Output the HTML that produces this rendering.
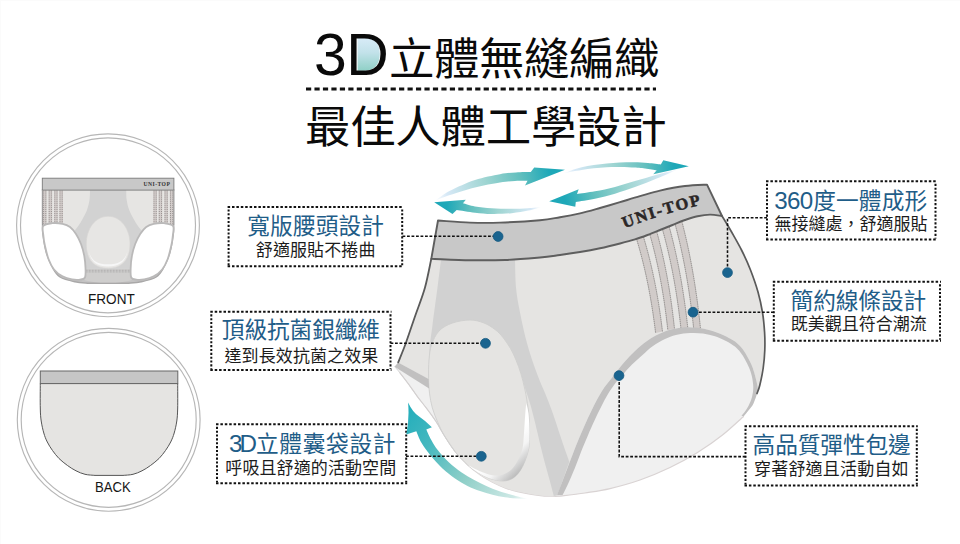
<!DOCTYPE html><html lang="zh-Hant"><head><meta charset="utf-8"><title>3D立體無縫編織</title><style>
html,body{margin:0;padding:0;background:#fff}
body{width:960px;height:544px;position:relative;overflow:hidden;font-family:"Liberation Sans",sans-serif}
.v{position:absolute;white-space:nowrap;line-height:1;color:#161616}
svg text.c{font-family:"Liberation Sans","Noto Sans CJK TC",sans-serif}
svg text.h{font-size:22.7px;fill:#1f5d88}
svg text.s{font-size:17px;fill:#1c1c1c}
svg text.n{font-size:24.2px;fill:#1f5d88}
</style></head><body>
<svg width="960" height="544" viewBox="0 0 960 544" style="position:absolute;left:0;top:0">
<defs>
<linearGradient id="gD" x1="0" y1="0" x2="0" y2="1"><stop offset="0" stop-color="#d9ecf8"/><stop offset="0.45" stop-color="#c3e2ea"/><stop offset="1" stop-color="#8fd0c6"/></linearGradient>
</defs>
<text class="c" x="314.1" y="75.2" font-size="58.9" fill="#0a0a0a">3</text>
<path fill="url(#gD)" d="M357.6 70.8L357.6 37.3L363 37.3C374.3 37.3 379.8 43.2 379.8 54C379.8 64.6 374.3 70.8 363 70.8Z"/>
<text class="c" x="346.3" y="75.2" font-size="58.9" fill="#0a0a0a">D</text>
<text class="c" x="389" y="74.9" font-size="45.5" letter-spacing="-0.5" fill="#0a0a0a" transform="translate(0 74.9) scale(1 0.965) translate(0 -74.9)">立體無縫編織</text>
<path d="M306 89H656" stroke="#111" stroke-width="3.2" stroke-dasharray="5.2 3.26" fill="none"/>
<text class="c" x="305" y="143.3" font-size="45.5" letter-spacing="-0.3" fill="#0a0a0a" transform="translate(0 143.3) scale(1 0.975) translate(0 -143.3)">最佳人體工學設計</text>
<path d="M227.6 206.9H403.2M227.6 266.2H403.2" stroke="#111" stroke-width="2" stroke-dasharray="2.5 1.9" fill="none"/>
<path d="M228.6 209.4V265.2M402.2 209.4V265.2" stroke="#111" stroke-width="2" stroke-dasharray="2.1 1.75" fill="none"/>
<text class="c h" x="247.3" y="233.6" letter-spacing="0.1">寬版腰頭設計</text>
<text class="c s" x="255.8" y="256.2" letter-spacing="0.1">舒適服貼不捲曲</text>
<path d="M210.3 311.8H391.5M210.3 370H391.5" stroke="#111" stroke-width="2" stroke-dasharray="2.5 1.9" fill="none"/>
<path d="M211.3 314.3V369M390.5 314.3V369" stroke="#111" stroke-width="2" stroke-dasharray="2.1 1.75" fill="none"/>
<text class="c h" x="221.8" y="338.2" letter-spacing="-0.1">頂級抗菌銀纖維</text>
<text class="c s" x="224.5" y="361.5" letter-spacing="0.1">達到長效抗菌之效果</text>
<path d="M216 424.3H407.2M216 483.2H407.2" stroke="#111" stroke-width="2" stroke-dasharray="2.5 1.9" fill="none"/>
<path d="M217 426.8V482.2M406.2 426.8V482.2" stroke="#111" stroke-width="2" stroke-dasharray="2.1 1.75" fill="none"/>
<text class="c n" x="229" y="451.9" letter-spacing="-2.9">3D</text>
<text class="c h" x="255.9" y="451.9" letter-spacing="0.7">立體囊袋設計</text>
<text class="c s" x="225.3" y="474.4" letter-spacing="0.1">呼吸且舒適的活動空間</text>
<path d="M766 181.3H936.5M766 239.5H936.5" stroke="#111" stroke-width="2" stroke-dasharray="2.5 1.9" fill="none"/>
<path d="M767 183.8V238.5M935.5 183.8V238.5" stroke="#111" stroke-width="2" stroke-dasharray="2.1 1.75" fill="none"/>
<text class="c n" x="774.2" y="209.4" letter-spacing="-0.7">360</text>
<text class="c h" x="813.3" y="209.4" letter-spacing="0.1">度一體成形</text>
<text class="c s" x="774.5" y="229.9">無接縫處，舒適服貼</text>
<path d="M772.8 281.8H941M772.8 340.7H941" stroke="#111" stroke-width="2" stroke-dasharray="2.5 1.9" fill="none"/>
<path d="M773.8 284.3V339.7M940 284.3V339.7" stroke="#111" stroke-width="2" stroke-dasharray="2.1 1.75" fill="none"/>
<text class="c h" x="790.6" y="309.4" letter-spacing="-0.1">簡約線條設計</text>
<text class="c s" x="790.8" y="329.9">既美觀且符合潮流</text>
<path d="M744.5 426.3H917.8M744.5 485.5H917.8" stroke="#111" stroke-width="2" stroke-dasharray="2.5 1.9" fill="none"/>
<path d="M745.5 428.8V484.5M916.8 428.8V484.5" stroke="#111" stroke-width="2" stroke-dasharray="2.1 1.75" fill="none"/>
<text class="c h" x="752.6" y="453.1" letter-spacing="-0.1">高品質彈性包邊</text>
<text class="c s" x="754" y="474.9" letter-spacing="0.2">穿著舒適且活動自如</text>
<circle cx="108" cy="225.3" r="91.4" fill="none" stroke="#b6b6b6" stroke-width="1.15"/>
<circle cx="108" cy="225.3" r="87.5" fill="none" stroke="#b6b6b6" stroke-width="1.15"/>
<circle cx="108.7" cy="419.8" r="91.4" fill="none" stroke="#b6b6b6" stroke-width="1.15"/>
<circle cx="108.7" cy="419.8" r="87.5" fill="none" stroke="#b6b6b6" stroke-width="1.15"/>
<path d="M40.3 383.5C40.3 387.6 40.1 401.8 40.3 408C40.4 414.2 40.6 416.8 41.2 421C41.8 425.2 42.8 429.5 43.8 433C44.8 436.5 45.8 439.1 47.3 442C48.8 444.9 50.5 447.8 52.5 450.5C54.5 453.2 56.5 456 59 458.5C61.5 461 64.7 463.4 67.5 465.5C70.3 467.6 73.1 469.3 76 470.8C78.9 472.3 81.8 473.5 85 474.3C88.2 475.1 93.3 475.2 95 475.4L123 475.4C124.7 475.2 129.8 475.1 133 474.3C136.2 473.5 139.1 472.3 142 470.8C144.9 469.3 147.7 467.6 150.5 465.5C153.3 463.4 156.5 461 159 458.5C161.5 456 163.6 453.2 165.5 450.5C167.4 447.8 169.2 444.9 170.7 442C172.1 439.1 173.2 436.5 174.2 433C175.2 429.5 176.2 425.2 176.8 421C177.4 416.8 177.5 414.2 177.7 408C177.8 401.8 177.7 387.6 177.7 383.5Z" fill="#e5e4e2" stroke="#555" stroke-width="1"/>
<rect x="40.3" y="371" width="137.5" height="12.6" fill="#c6c6c6" stroke="#666" stroke-width="1"/>
<path d="M42.5 190C42.5 195.8 42.4 217.5 42.5 225C42.6 232.5 42.4 230.4 43 235C43.6 239.6 44.7 247.1 46.3 252.5C47.9 257.9 50.2 263.4 52.5 267.5C54.8 271.6 56.2 274.6 60 277C63.8 279.4 70.4 280.8 75 281.8C79.6 282.8 85.4 283 87.5 283.2L128.7 283.2C130.8 283 136.6 282.8 141.2 281.8C145.8 280.8 152.4 279.4 156.2 277C159.9 274.6 161.4 271.6 163.7 267.5C166 263.4 168.3 257.9 169.9 252.5C171.5 247.1 172.6 239.6 173.2 235C173.8 230.4 173.6 232.5 173.7 225C173.8 217.5 173.7 195.8 173.7 190Z" fill="#c4c3c3" stroke="#a9a8a8" stroke-width="1.4"/>
<path d="M42.5 190H173.7V224C160 224 150 226 141 233L131 268.8H85L75 233C66 226 56 224 42.5 224Z" fill="#e6e5e3"/>
<path d="M90 190C89.9 191.7 90 196.7 89.5 200C89 203.3 88.2 206.7 87 210C85.8 213.3 83.8 216.8 82 220C80.2 223.2 78 226.5 76 229C74 231.5 71 234 70 235L83 262L85 268.8H131L133 262L146.2 235C145.2 234 142.2 231.5 140.2 229C138.2 226.5 136 223.2 134.2 220C132.4 216.8 130.4 213.3 129.2 210C127.9 206.7 127.2 203.3 126.7 200C126.2 196.7 126.3 191.7 126.2 190Z" fill="#d2d2d2"/>
<path d="M85 268.8H131.2L132 280C125 283.4 91 283.4 84.2 280Z" fill="#cfcecd"/>
<path d="M86 270.3H130.5M86 271.9H130.5" stroke="#8f8d8d" stroke-width="0.6" stroke-dasharray="0.8 0.7" fill="none"/>
<path d="M108.1 216.3C121 216.3 130 229 130 244C130 260 122 268.3 108.1 268.3C94 268.3 86.3 260 86.3 244C86.3 229 95 216.3 108.1 216.3Z" fill="#e7e6e4" stroke="#d6d5d4" stroke-width="0.6"/>
<path d="M89 252C91 262 97 266.5 108.1 266.5C119 266.5 125.5 262 127.3 252C125 260.5 119 264.3 108.1 264.3C97 264.3 91.5 260.5 89 252Z" fill="#f6f6f6"/>
<rect x="42.9" y="190.3" width="3.7" height="36" fill="#d3cdcb"/>
<path d="M43.6 190.5V226M45.8 190.5V226" stroke="#7d7676" stroke-width="0.7" stroke-dasharray="1 1.05" fill="none"/>
<rect x="48.5" y="190.3" width="3.7" height="36" fill="#d3cdcb"/>
<path d="M49.2 190.5V226M51.4 190.5V226" stroke="#7d7676" stroke-width="0.7" stroke-dasharray="1 1.05" fill="none"/>
<rect x="54.1" y="190.3" width="3.7" height="36" fill="#d3cdcb"/>
<path d="M54.8 190.5V226M57 190.5V226" stroke="#7d7676" stroke-width="0.7" stroke-dasharray="1 1.05" fill="none"/>
<rect x="59.3" y="190.3" width="3.7" height="36" fill="#d3cdcb"/>
<path d="M60 190.5V226M62.2 190.5V226" stroke="#7d7676" stroke-width="0.7" stroke-dasharray="1 1.05" fill="none"/>
<rect x="153.3" y="190.3" width="3.7" height="36" fill="#d3cdcb"/>
<path d="M154 190.5V226M156.2 190.5V226" stroke="#7d7676" stroke-width="0.7" stroke-dasharray="1 1.05" fill="none"/>
<rect x="158.6" y="190.3" width="3.7" height="36" fill="#d3cdcb"/>
<path d="M159.3 190.5V226M161.5 190.5V226" stroke="#7d7676" stroke-width="0.7" stroke-dasharray="1 1.05" fill="none"/>
<rect x="164.3" y="190.3" width="3.7" height="36" fill="#d3cdcb"/>
<path d="M165 190.5V226M167.2 190.5V226" stroke="#7d7676" stroke-width="0.7" stroke-dasharray="1 1.05" fill="none"/>
<rect x="169.8" y="190.3" width="3.7" height="36" fill="#d3cdcb"/>
<path d="M170.5 190.5V226M172.7 190.5V226" stroke="#7d7676" stroke-width="0.7" stroke-dasharray="1 1.05" fill="none"/>
<path d="M43.2 226C44.7 224 48.8 223.6 52 223.2C55.2 222.8 59.5 223.2 62.5 223.8C65.5 224.4 67.8 225.3 70 227C72.2 228.7 74.2 231.2 76 234C77.8 236.8 79.6 240.3 81 244C82.4 247.7 83.5 252 84.3 256C85 260 85.4 264.4 85.5 268C85.6 271.6 85.9 275.6 85 277.5C84.1 279.4 82.2 279.3 80 279.6C77.8 279.9 74.9 279.9 72 279.3C69.1 278.8 65.5 277.9 62.5 276.3C59.5 274.7 56.3 272.4 54 269.5C51.7 266.6 50 262.9 48.5 259C47 255.1 45.9 250 45 246C44.1 242 43.6 238.3 43.3 235C43 231.7 41.8 228 43.2 226Z" fill="#fff" stroke="#bab9b9" stroke-width="1.8"/>
<path d="M173 226C171.6 224 167.4 223.6 164.2 223.2C161 222.8 156.7 223.2 153.7 223.8C150.7 224.4 148.4 225.3 146.2 227C143.9 228.7 142 231.2 140.2 234C138.4 236.8 136.6 240.3 135.2 244C133.8 247.7 132.6 252 131.9 256C131.1 260 130.8 264.4 130.7 268C130.6 271.6 130.3 275.6 131.2 277.5C132.1 279.4 134 279.3 136.2 279.6C138.4 279.9 141.3 279.9 144.2 279.3C147.1 278.8 150.7 277.9 153.7 276.3C156.7 274.7 159.9 272.4 162.2 269.5C164.5 266.6 166.2 262.9 167.7 259C169.2 255.1 170.3 250 171.2 246C172.1 242 172.6 238.3 172.9 235C173.2 231.7 174.4 228 173 226Z" fill="#fff" stroke="#bab9b9" stroke-width="1.8"/>
<rect x="42.3" y="178.2" width="131.6" height="11.9" fill="#c8c8c8" stroke="#7a7a7a" stroke-width="0.9"/>
<path d="M42.5 190V225M173.7 190V225" stroke="#9a9999" stroke-width="0.9" fill="none"/>
<path d="M394.6 366.6C395.4 367.6 397.2 369.4 399.5 372.3C401.8 375.2 405.4 379.8 408.4 383.9C411.4 388 414.5 392.7 417.6 396.8C420.7 400.9 423.7 404.6 426.8 408.7C429.9 412.8 433.1 417.1 436 421.5C438.9 425.9 440.8 430 444 435C447.2 440 451.1 446.5 455 451.5C458.9 456.5 463.3 460.9 467.5 464.8C471.7 468.7 475.8 471.9 480 474.8C484.2 477.7 488.3 480.1 492.5 482.3C496.7 484.5 500.8 486.3 505 487.9C509.2 489.4 513.3 490.6 517.5 491.6C521.7 492.6 525.8 493.4 530 494.1C534.2 494.8 538.3 495.4 542.5 495.8C546.7 496.2 552.9 496.2 555 496.3L560 496.2C564.2 495.7 576.7 494.3 585 493C593.3 491.7 600.8 490.8 610 488.6C619.2 486.4 630 483.5 640 480C650 476.5 660.4 472.1 670 467.5C679.6 462.9 688.8 457.9 697.5 452.5C706.2 447.1 714.8 441.1 722.5 435C730.2 428.9 740.2 419.3 743.8 416.2L743.8 416.2C744.5 415.3 746.6 412.8 748 411C749.4 409.2 751.2 407.3 752.4 405.4C753.6 403.5 754.2 401.5 755 399.5C755.8 397.5 756.2 395.9 757 393.5C757.8 391.1 758.8 389.4 759.8 385.2C760.8 380.9 762.4 373.9 763.2 368C764 362.1 764.6 355.9 764.8 350C765 344.1 765 338.8 764.6 332.5C764.2 326.2 763.6 319.2 762.5 312.5C761.4 305.8 760 299.1 758 292C756 284.9 753.2 277 750.5 270C747.8 263 744.8 256.5 741.5 250C738.2 243.5 734.2 236.7 731 231C727.8 225.3 723.5 218.5 722 216L722 216C720 215.8 714.1 214.5 710 214.6C705.9 214.7 701.7 215.4 697.5 216.3C693.3 217.2 689.2 218.6 685 220C680.8 221.4 676.7 223.3 672.5 225C668.3 226.7 664.2 228.3 660 230C655.8 231.7 651.7 233.4 647.5 235C643.3 236.6 639.6 238 635 239.4C630.4 240.8 625.8 242 620 243.5C614.2 245 606.7 246.9 600 248.3C593.3 249.7 586.7 250.9 580 252C573.3 253.1 566.7 254.1 560 255C553.3 255.9 549.2 256.7 540 257.5C530.8 258.3 516.7 259.6 505 260C493.3 260.4 482.3 260.4 470 260.2C457.7 260 437.8 259 431.3 258.8L431.3 258.8C430.2 263.6 427.6 278.1 425 287.5C422.4 296.9 418.8 305.6 415.5 315C412.2 324.4 408.4 336.1 405.5 344C402.6 351.9 399.4 359.3 398.2 362.4Z" fill="#f0f0f0"/>
<path d="M399.5 372.3C401 374.2 405.4 379.8 408.4 383.9C411.4 388 414.5 392.7 417.6 396.8C420.7 400.9 423.7 404.6 426.8 408.7C429.9 412.8 433.1 417.1 436 421.5C438.9 425.9 440.8 430 444 435C447.2 440 451.1 446.5 455 451.5C458.9 456.5 463.3 460.9 467.5 464.8C471.7 468.7 475.8 471.9 480 474.8C484.2 477.7 488.3 480.1 492.5 482.3C496.7 484.5 500.8 486.3 505 487.9C509.2 489.4 513.3 490.6 517.5 491.6C521.7 492.6 525.8 493.4 530 494.1C534.2 494.8 538.3 495.4 542.5 495.8C546.7 496.2 552.9 496.2 555 496.3L560 496.2C564.2 495.7 576.7 494.3 585 493C593.3 491.7 600.8 490.8 610 488.6C619.2 486.4 630 483.5 640 480C650 476.5 660.4 472.1 670 467.5C679.6 462.9 688.8 457.9 697.5 452.5C706.2 447.1 714.8 441.1 722.5 435C730.2 428.9 740.2 419.3 743.8 416.2" fill="none" stroke="#d9d3d3" stroke-width="1.2"/>
<path d="M431.3 258.8L431.3 258.8C430.2 263.6 427.6 278.1 425 287.5C422.4 296.9 418.8 305.6 415.5 315C412.2 324.4 408.4 336.1 405.5 344C402.6 351.9 399.4 359.3 398.2 362.4L428.6 379.2L428.6 378.4C428.8 380.8 428.9 388.2 429.5 393.1C430.1 398 430.9 402.9 432.3 407.8C433.7 412.7 435.7 417.6 437.8 422.5C439.9 427.4 442.3 432.4 445.2 437.2C448.1 442 453.4 449.1 455 451.5L455 451.5C457.1 453.7 463.3 460.9 467.5 464.8C471.7 468.7 475.8 471.9 480 474.8C484.2 477.7 488.3 480.1 492.5 482.3C496.7 484.5 500.8 486.3 505 487.9C509.2 489.4 513.3 490.6 517.5 491.6C521.7 492.6 525.8 493.4 530 494.1C534.2 494.8 538.3 495.4 542.5 495.8C546.7 496.2 552.9 496.2 555 496.3L557 495.2L557 495.2C557.8 493.3 559.6 488.5 561.5 483.7C563.4 478.9 565.9 472.2 568.2 466.1C570.5 460 573 453.4 575.5 447C578 440.6 580.7 434.4 583.5 428C586.3 421.6 589.3 414.9 592.4 408.7C595.5 402.5 598.6 396.4 602 391C605.4 385.6 609.3 381.2 613 376.5C616.7 371.8 620.3 366.8 624 362.5C627.7 358.2 631.2 354.6 635 351C638.8 347.4 642.8 343.9 647 341C651.2 338.1 655.8 335.4 660 333.5C664.2 331.6 667.8 330.3 672 329.3C676.2 328.3 680.7 327.6 685 327.3C689.3 327.1 693.8 327.3 698 327.8C702.2 328.3 705.8 329.1 710 330.3C714.2 331.5 719.7 333.6 723 335C726.3 336.4 727.7 337.3 730 338.6C732.3 339.9 734.6 341.1 736.8 342.9C739 344.7 741.2 347.1 743 349.5C744.8 351.9 746.2 354.6 747.8 357.6C749.4 360.6 751.3 364 752.6 367.5C753.9 371 754.9 374.9 755.8 378.5C756.7 382.1 757.7 386.4 757.9 388.9C758.1 391.4 757.1 392.7 757 393.5L757 393.5C757.5 392.1 758.8 389.4 759.8 385.2C760.8 380.9 762.4 373.9 763.2 368C764 362.1 764.6 355.9 764.8 350C765 344.1 765 338.8 764.6 332.5C764.2 326.2 763.6 319.2 762.5 312.5C761.4 305.8 760 299.1 758 292C756 284.9 753.2 277 750.5 270C747.8 263 744.8 256.5 741.5 250C738.2 243.5 734.2 236.7 731 231C727.8 225.3 723.5 218.5 722 216L722 216C720 215.8 714.1 214.5 710 214.6C705.9 214.7 701.7 215.4 697.5 216.3C693.3 217.2 689.2 218.6 685 220C680.8 221.4 676.7 223.3 672.5 225C668.3 226.7 664.2 228.3 660 230C655.8 231.7 651.7 233.4 647.5 235C643.3 236.6 639.6 238 635 239.4C630.4 240.8 625.8 242 620 243.5C614.2 245 606.7 246.9 600 248.3C593.3 249.7 586.7 250.9 580 252C573.3 253.1 566.7 254.1 560 255C553.3 255.9 549.2 256.7 540 257.5C530.8 258.3 516.7 259.6 505 260C493.3 260.4 482.3 260.4 470 260.2C457.7 260 437.8 259 431.3 258.8Z" fill="#e5e4e2"/>
<path d="M428.6 379C428.8 374.2 428.9 359 429.5 350C430.1 341 431.2 335.4 432.5 325C433.8 314.6 436.1 298.3 437.5 287.5C438.9 276.7 440.4 264.6 441 260L441 260C445.8 260.1 457.7 260.7 470 260.6C482.3 260.5 507.5 259.7 515 259.5L515 259.5C515.2 264.2 515.2 278.7 516 287.5C516.8 296.3 518.1 302.9 520 312.5C521.9 322.1 524.6 334.6 527.5 345C530.4 355.4 534.6 367 537.5 375C540.4 383 542.5 386.7 545 393C547.5 399.3 549.6 404.1 552.7 413C555.8 421.9 561 438.1 563.8 446.2C566.6 454.3 568.4 459.1 569.3 461.7L569.3 461.7C568 465.4 563.5 478.1 561.5 483.7C559.5 489.3 557.8 493.3 557 495.2L553.8 495.9L553.8 495.9C553.1 493.1 551.2 486.1 549.4 479.3C547.6 472.5 545.1 464.2 542.8 455C540.5 445.8 537.5 432.5 535.4 424C533.3 415.5 531.8 409.7 530.2 404C528.6 398.3 527.2 395.3 525.6 390C524 384.7 521.4 375 520.5 372L480 400Z" fill="#d1d1d1"/>
<path d="M470 320C464.8 320 457.7 321.2 452.5 323C447.3 324.8 442.5 327.3 439 331C435.5 334.7 433.2 340.2 431.5 345C429.8 349.8 429.5 354.4 429 360C428.5 365.6 428.5 372.9 428.6 378.4C428.7 383.9 428.9 388.2 429.5 393.1C430.1 398 430.9 402.9 432.3 407.8C433.7 412.7 435.7 417.6 437.8 422.5C439.9 427.4 442.3 432.4 445.2 437.2C448.1 442 451.3 446.9 455 451.5C458.7 456.1 463.8 461.3 467.5 464.8C471.2 468.3 473.8 470 477.5 472.3C481.2 474.6 485.8 477.1 490 478.5C494.2 479.9 498.8 481 502.5 481C506.2 481 509.6 480.2 512.5 478.5C515.4 476.8 517.9 473.9 520 471C522.1 468.1 523.5 464.8 525 461C526.5 457.2 528 452.7 528.7 448.5C529.5 444.3 529.4 440.8 529.5 436C529.6 431.2 529.5 424.8 529.2 420C529 415.2 528.7 412.5 528 407.5C527.3 402.5 526.2 395.6 525 390C523.8 384.4 522.5 379 521 374C519.5 369 517.8 364.2 516 360C514.2 355.8 512.7 352.2 510.5 348.5C508.3 344.8 505.6 340.7 503 337.5C500.4 334.3 498.2 331.9 495 329.5C491.8 327.1 488.2 324.6 484 323C479.8 321.4 475.2 320 470 320Z" fill="#e5e4e2" stroke="#cfcfce" stroke-width="0.9"/>
<path d="M526.2 403.2C526.6 404.7 527.8 408.5 528.3 412C528.8 415.5 529.1 420 529.3 424C529.5 428 529.6 431.9 529.5 436C529.4 440.1 529.5 444.3 528.7 448.5C528 452.7 526.5 457.2 525 461C523.5 464.8 522.1 468.1 520 471C517.9 473.9 515.4 476.8 512.5 478.5C509.6 480.2 506.2 481 502.5 481C498.8 481 494.2 479.9 490 478.5C485.8 477.1 481.2 474.6 477.5 472.3C473.8 470 469.2 466.1 467.5 464.8L467.5 464.8C469 465.6 473.8 468.4 476.3 469.6C478.8 470.8 479.8 471.2 482.5 472.2C485.2 473.1 489.2 474.9 492.5 475.3C495.8 475.7 499.4 475.6 502.5 474.7C505.6 473.8 508.8 472 511.3 469.7C513.8 467.4 515.6 464.5 517.5 461C519.4 457.5 521.5 452.7 522.5 448.5C523.5 444.3 523.4 440.1 523.8 436C524.1 431.9 524.3 428 524.6 424C524.9 420 525.1 415.5 525.4 412C525.7 408.5 526.1 404.7 526.2 403.2Z" fill="url(#gHL)"/>
<path d="M636.1 237.6Q649.3 280.1 655.6 333L662.5 331.6Q656.2 278.2 643 235.3Z" fill="#d1cbc9"/>
<path d="M636.1 237.6Q649.3 280.1 655.6 333" fill="none" stroke="#777372" stroke-width="0.8" stroke-dasharray="1.3 0.6"/>
<path d="M643 235.3Q656.2 278.2 662.5 331.6" fill="none" stroke="#777372" stroke-width="0.8" stroke-dasharray="1.3 0.6"/>
<path d="M649.4 233Q662 276.2 667.8 330L674.5 328.8Q668.8 274.2 656.3 230.1Z" fill="#d1cbc9"/>
<path d="M649.4 233Q662 276.2 667.8 330" fill="none" stroke="#777372" stroke-width="0.8" stroke-dasharray="1.3 0.6"/>
<path d="M656.3 230.1Q668.8 274.2 674.5 328.8" fill="none" stroke="#777372" stroke-width="0.8" stroke-dasharray="1.3 0.6"/>
<path d="M662 227.8Q674.9 272.8 680.9 328.2L687.8 328Q681.7 271.2 668.7 225Z" fill="#d1cbc9"/>
<path d="M662 227.8Q674.9 272.8 680.9 328.2" fill="none" stroke="#777372" stroke-width="0.8" stroke-dasharray="1.3 0.6"/>
<path d="M668.7 225Q681.7 271.2 687.8 328" fill="none" stroke="#777372" stroke-width="0.8" stroke-dasharray="1.3 0.6"/>
<path d="M674.7 222.7Q687.6 270.1 693.6 328L700.5 328.6Q694.5 269.2 681.6 220.4Z" fill="#d1cbc9"/>
<path d="M674.7 222.7Q687.6 270.1 693.6 328" fill="none" stroke="#777372" stroke-width="0.8" stroke-dasharray="1.3 0.6"/>
<path d="M681.6 220.4Q694.5 269.2 700.5 328.6" fill="none" stroke="#777372" stroke-width="0.8" stroke-dasharray="1.3 0.6"/>
<path d="M398.2 362.4L428.6 379L429.1 388.6L394.6 366.8Z" fill="#c1c0c0"/>
<path d="M394.6 366.6C395.4 367.6 397.2 369.4 399.5 372.3C401.8 375.2 405.4 379.8 408.4 383.9C411.4 388 414.5 392.7 417.6 396.8C420.7 400.9 423.7 404.6 426.8 408.7C429.9 412.8 433.1 417.1 436 421.5C438.9 425.9 440.8 430 444 435C447.2 440 453.2 448.8 455 451.5" fill="none" stroke="#cfcfcf" stroke-width="0.8"/>
<path d="M557 495.2C557.8 493.3 559.6 488.5 561.5 483.7C563.4 478.9 565.9 472.2 568.2 466.1C570.5 460 573 453.4 575.5 447C578 440.6 580.7 434.4 583.5 428C586.3 421.6 589.3 414.9 592.4 408.7C595.5 402.5 598.6 396.4 602 391C605.4 385.6 609.3 381.2 613 376.5C616.7 371.8 620.3 366.8 624 362.5C627.7 358.2 631.2 354.6 635 351C638.8 347.4 642.8 343.9 647 341C651.2 338.1 655.8 335.4 660 333.5C664.2 331.6 667.8 330.3 672 329.3C676.2 328.3 680.7 327.6 685 327.3C689.3 327.1 693.8 327.3 698 327.8C702.2 328.3 705.8 329.1 710 330.3C714.2 331.5 719.7 333.6 723 335C726.3 336.4 727.7 337.3 730 338.6C732.3 339.9 734.6 341.1 736.8 342.9C739 344.7 741.2 347.1 743 349.5C744.8 351.9 746.2 354.6 747.8 357.6C749.4 360.6 751.3 364 752.6 367.5C753.9 371 754.9 374.9 755.8 378.5C756.7 382.1 757.7 386.4 757.9 388.9C758.1 391.4 757.5 391.7 757 393.5C756.5 395.3 755.8 397.5 755 399.5C754.2 401.5 753.6 403.5 752.4 405.4C751.2 407.3 749.4 409.2 748 411C746.6 412.8 744.5 415.3 743.8 416.2L741.5 415.8C742.1 415.1 743.8 413.2 745 411.5C746.2 409.8 747.5 407.8 748.7 405.4C749.9 403 751.2 400.1 752 397C752.8 393.9 753.3 390.5 753.3 387C753.3 383.5 752.5 379.2 751.8 376C751.1 372.8 750.1 370.3 749 367.5C747.9 364.7 746.4 361.9 745 359.4C743.6 356.9 742.2 354.6 740.5 352.5C738.8 350.4 737.3 348.5 734.9 346.6C732.5 344.7 729.3 342.7 726 341C722.7 339.3 718.8 337.6 715 336.3C711.2 335.1 707.2 334.1 703 333.5C698.8 332.9 694.3 332.8 690 333C685.7 333.2 681.2 333.8 677 334.8C672.8 335.8 669 337.1 665 339C661 340.9 656.8 343.3 653 346C649.2 348.7 646 351.9 642.5 355C639 358.1 635.4 361.1 632 364.5C628.6 367.9 624.8 372.4 622 375.5C619.2 378.6 617.8 379.9 615.5 383C613.2 386.1 610.4 390.1 608 394C605.6 397.9 603.5 402.1 601.3 406.5C599 410.9 596.7 415.7 594.5 420.5C592.3 425.3 590.2 429.9 588 435.2C585.8 440.4 583.2 446.5 581 452C578.8 457.5 577 463 574.8 468.3C572.6 473.6 570 479.6 568 484C566 488.4 563.5 493.2 562.6 495Z" fill="#c1c0c0"/>
<path d="M438 220.5C443.3 220.8 459.7 222.2 470 222.6C480.3 222.9 488.3 223 500 222.6C511.7 222.2 530 221.1 540 220.2C550 219.3 553.3 218.3 560 217.2C566.7 216.1 573.3 214.9 580 213.4C586.7 211.9 593.3 209.9 600 208C606.7 206.1 613.3 204.2 620 202.2C626.7 200.2 633.3 198.1 640 196.2C646.7 194.3 652.5 192.3 660 190.6C667.5 188.9 677.2 187 685 186C692.8 185 703.3 184.8 707 184.6L722 216C720 215.8 714.1 214.5 710 214.6C705.9 214.7 701.7 215.4 697.5 216.3C693.3 217.2 689.2 218.6 685 220C680.8 221.4 676.7 223.3 672.5 225C668.3 226.7 664.2 228.3 660 230C655.8 231.7 651.7 233.4 647.5 235C643.3 236.6 639.6 238 635 239.4C630.4 240.8 625.8 242 620 243.5C614.2 245 606.7 246.9 600 248.3C593.3 249.7 586.7 250.9 580 252C573.3 253.1 566.7 254.1 560 255C553.3 255.9 549.2 256.7 540 257.5C530.8 258.3 516.7 259.6 505 260C493.3 260.4 482.3 260.4 470 260.2C457.7 260 437.8 259 431.3 258.8Z" fill="#c8c8c8" stroke="#5e5e5e" stroke-width="1.9" stroke-linejoin="round"/>
<path d="M431.3 258.8C430.2 263.6 427.6 278.1 425 287.5C422.4 296.9 418.8 305.6 415.5 315C412.2 324.4 408.4 336.1 405.5 344C402.6 351.9 399.4 359.3 398.2 362.4" fill="none" stroke="#5a5a5a" stroke-width="1.8" stroke-linecap="round"/>
<path d="M722 216C723.5 218.5 727.8 225.3 731 231C734.2 236.7 738.2 243.5 741.5 250C744.8 256.5 747.8 263 750.5 270C753.2 277 756 284.9 758 292C760 299.1 761.4 305.8 762.5 312.5C763.6 319.2 764.2 326.2 764.6 332.5C765 338.8 765 344.1 764.8 350C764.6 355.9 764 362.1 763.2 368C762.4 373.9 760.8 380.9 759.8 385.2C758.8 389.4 757.5 392.1 757 393.5" fill="none" stroke="#5a5a5a" stroke-width="1.7" stroke-linecap="round"/>
<defs>
<linearGradient id="ga1" gradientUnits="userSpaceOnUse" x1="435" y1="200" x2="565" y2="170"><stop offset="0" stop-color="#d6e8f6" stop-opacity="0.0"/><stop offset="0.1" stop-color="#d6e8f6" stop-opacity="1"/><stop offset="0.4" stop-color="#9fd5d2" stop-opacity="1"/><stop offset="0.66" stop-color="#62bfbe" stop-opacity="1"/><stop offset="0.88" stop-color="#1ea8b8" stop-opacity="1"/><stop offset="1" stop-color="#1ea8b8" stop-opacity="1"/></linearGradient>
<linearGradient id="ga2" gradientUnits="userSpaceOnUse" x1="542" y1="207" x2="434" y2="202"><stop offset="0" stop-color="#d6e8f6" stop-opacity="0.0"/><stop offset="0.1" stop-color="#d6e8f6" stop-opacity="1"/><stop offset="0.4" stop-color="#9fd5d2" stop-opacity="1"/><stop offset="0.66" stop-color="#62bfbe" stop-opacity="1"/><stop offset="0.88" stop-color="#1ea8b8" stop-opacity="1"/><stop offset="1" stop-color="#1ea8b8" stop-opacity="1"/></linearGradient>
<linearGradient id="ga3" gradientUnits="userSpaceOnUse" x1="678" y1="170" x2="549" y2="201"><stop offset="0" stop-color="#d6e8f6" stop-opacity="0.0"/><stop offset="0.1" stop-color="#d6e8f6" stop-opacity="1"/><stop offset="0.4" stop-color="#9fd5d2" stop-opacity="1"/><stop offset="0.66" stop-color="#62bfbe" stop-opacity="1"/><stop offset="0.88" stop-color="#1ea8b8" stop-opacity="1"/><stop offset="1" stop-color="#1ea8b8" stop-opacity="1"/></linearGradient>
<linearGradient id="ga4" gradientUnits="userSpaceOnUse" x1="563" y1="173" x2="689" y2="166"><stop offset="0" stop-color="#d6e8f6" stop-opacity="0.0"/><stop offset="0.1" stop-color="#d6e8f6" stop-opacity="1"/><stop offset="0.4" stop-color="#9fd5d2" stop-opacity="1"/><stop offset="0.66" stop-color="#62bfbe" stop-opacity="1"/><stop offset="0.88" stop-color="#1ea8b8" stop-opacity="1"/><stop offset="1" stop-color="#1ea8b8" stop-opacity="1"/></linearGradient>
<linearGradient id="ga5" gradientUnits="userSpaceOnUse" x1="528" y1="499" x2="408" y2="402"><stop offset="0" stop-color="#e4f3f1" stop-opacity="0.2"/><stop offset="0.08" stop-color="#cfe9e6" stop-opacity="1"/><stop offset="0.4" stop-color="#8fcfc8" stop-opacity="1"/><stop offset="0.72" stop-color="#45b8bf" stop-opacity="1"/><stop offset="1" stop-color="#20adbb" stop-opacity="1"/></linearGradient>
<linearGradient id="gHL" gradientUnits="userSpaceOnUse" x1="503" y1="446" x2="524" y2="468"><stop offset="0" stop-color="#ffffff"/><stop offset="0.45" stop-color="#f4f4f4"/><stop offset="1" stop-color="#bcbcbc"/></linearGradient>
</defs>
<path d="M435 200.8C437.5 199.1 443.3 194.3 450 190.8C456.7 187.3 466.7 182.8 475 180C483.3 177.2 493.2 175.5 500 174.2C506.8 172.9 510.9 172.8 516 172.4C521.1 172 528.3 172.1 530.8 172L534.2 167.5L565 169.7L525 185.5L527.5 180.8C525.4 180.8 519.6 180.7 515 181C510.4 181.3 506.7 181.4 500 182.5C493.3 183.6 483.3 185.4 475 187.5C466.7 189.6 456.7 192.8 450 195C443.3 197.2 437.5 199.8 435 200.8Z" fill="url(#ga1)"/>
<path d="M434.2 202.2L465.8 199.7L463 203.2C465 203.7 470.2 205.6 475 206.4C479.8 207.2 485.6 207.9 491.7 208.3C497.8 208.7 505.6 208.8 511.7 208.8C517.8 208.8 523.1 208.5 528 208.2C532.9 207.9 538.8 207.2 541 207L541 207C538.9 207.6 533.2 209.6 528.3 210.6C523.4 211.6 517.8 212.6 511.7 213.2C505.6 213.8 497.8 214.1 491.7 214C485.6 213.9 480.8 213.4 475 212.7C469.2 212 459.8 210.4 456.7 210L452.5 213.9Z" fill="url(#ga2)"/>
<path d="M549.2 201.3L578.7 189.2L577 194C580 193.6 588.7 192.5 595 191.3C601.3 190.1 608.3 188.6 615 186.9C621.7 185.2 628 183.1 635 181.1C642 179.1 649.7 176.6 656.7 174.7C663.7 172.8 673.6 170.6 677 169.8L677 169.8C673.6 171.3 663.7 175.7 656.7 178.6C649.7 181.5 642 184.6 635 187.1C628 189.6 621.7 191.8 615 193.7C608.3 195.6 601.5 197.3 595 198.7C588.5 200.1 579 201.4 575.8 202L575.3 206.7Z" fill="url(#ga3)"/>
<path d="M563.3 173.3C566.4 172.3 574.5 168.8 581.7 167.2C588.9 165.5 598.4 164.2 606.7 163.4C615 162.6 624.8 162.3 631.7 162.2C638.6 162.1 643.1 162.6 648 163C652.9 163.4 658.7 164.2 660.8 164.5L663.3 160.3L688.8 166.3L653.3 174.2L656.7 170.3C654.8 170 649.2 168.9 645 168.4C640.8 167.9 638.1 167.6 631.7 167.4C625.3 167.2 615 166.9 606.7 167.3C598.4 167.7 588.9 168.9 581.7 169.9C574.5 170.9 566.4 172.7 563.3 173.3Z" fill="url(#ga4)"/>
<path d="M408.1 402.5Q412.5 412 418.8 416.3T431.9 427.3L426.3 429.4L426.3 429.4C427.1 431.2 429.4 436.6 431.3 440C433.2 443.4 434.6 446.1 437.5 449.8C440.4 453.5 444.8 458.6 448.8 462.3C452.8 466.1 457.1 469.4 461.3 472.3C465.5 475.2 469.6 477.5 473.8 479.8C478 482.1 482.1 484.1 486.3 486C490.5 487.9 494.6 489.5 498.8 491C503 492.5 506.4 493.4 511.3 494.8C516.2 496.2 525.2 498.5 528 499.2L528 499.2C526.2 499.1 521.3 498.9 517.5 498.6C513.7 498.3 509.2 497.9 505 497.3C500.8 496.7 496.7 495.9 492.5 494.8C488.3 493.8 484.2 492.5 480 491C475.8 489.5 471.7 488.1 467.5 486C463.3 483.9 459.2 481.4 455 478.5C450.8 475.6 446.7 472.4 442.5 468.5C438.3 464.6 433.5 459.1 430 454.8C426.5 450.5 423.6 446.4 421.3 442.5C419 438.6 417.1 433.2 416.3 431.3L406.3 434.4Q409.5 420 408.1 402.5Z" fill="url(#ga5)"/>
<path id="utp" d="M621.6 229.4Q662 213.4 704 204.4" fill="none"/>
<text style="font-family:'Liberation Serif',serif;font-weight:700;font-size:16.4px;letter-spacing:1.8px" fill="#2a2626" stroke="#2a2626" stroke-width="0.55"><textPath href="#utp" startOffset="3.2">UNI-TOP</textPath></text>
<text x="143.6" y="185.6" style="font-family:'Liberation Serif',serif;font-weight:700;font-size:5.6px;letter-spacing:0.45px" fill="#333">UNI-TOP</text>
<path d="M402.5 236.3H494" stroke="#111" stroke-width="1.55" stroke-dasharray="2.8 1.7" fill="none"/>
<path d="M390.5 343.3H481" stroke="#111" stroke-width="1.55" stroke-dasharray="2.8 1.7" fill="none"/>
<path d="M406 456.3H477" stroke="#111" stroke-width="1.55" stroke-dasharray="2.8 1.7" fill="none"/>
<path d="M767 217.7H727.5V268" stroke="#111" stroke-width="1.55" stroke-dasharray="2.8 1.7" fill="none"/>
<path d="M773.8 312.3H697" stroke="#111" stroke-width="1.55" stroke-dasharray="2.8 1.7" fill="none"/>
<path d="M745.5 456.6H619.2V380" stroke="#111" stroke-width="1.55" stroke-dasharray="2.8 1.7" fill="none"/>
<circle cx="498.1" cy="236.5" r="4.9" fill="#1a648f" stroke="#175a82" stroke-width="0.8"/>
<circle cx="485.5" cy="343.3" r="4.9" fill="#1a648f" stroke="#175a82" stroke-width="0.8"/>
<circle cx="481.3" cy="456.3" r="4.9" fill="#1a648f" stroke="#175a82" stroke-width="0.8"/>
<circle cx="727.5" cy="272.6" r="4.9" fill="#1a648f" stroke="#175a82" stroke-width="0.8"/>
<circle cx="693" cy="312.2" r="4.9" fill="#1a648f" stroke="#175a82" stroke-width="0.8"/>
<circle cx="619" cy="375.6" r="4.9" fill="#1a648f" stroke="#175a82" stroke-width="0.8"/>
<path d="M0 0.5H960M0.5 0V544" stroke="#fbfbfb" stroke-width="1" fill="none"/>
</svg>
<div class="v" style="left:87.5px;top:291.6px;font-size:14.8px;transform:scaleX(0.917);transform-origin:0 0">FRONT</div>
<div class="v" style="left:94.6px;top:480.2px;font-size:14.8px;transform:scaleX(0.887);transform-origin:0 0">BACK</div>
</body></html>
